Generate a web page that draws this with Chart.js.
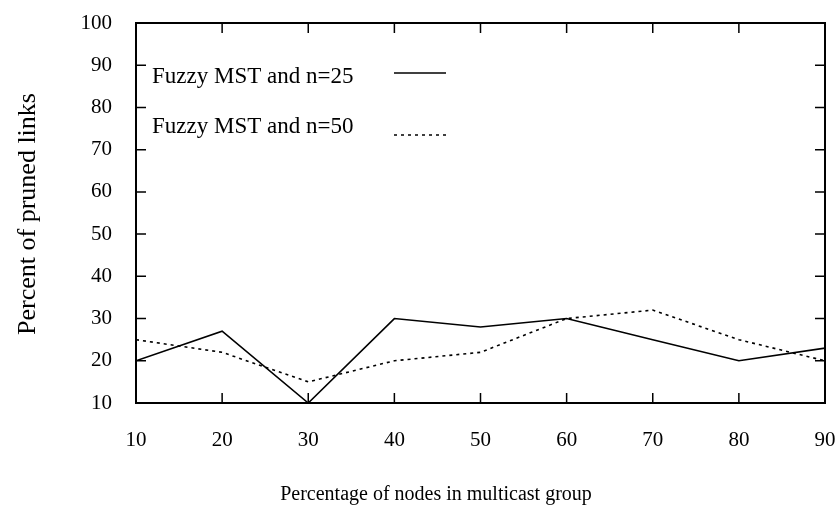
<!DOCTYPE html>
<html>
<head>
<meta charset="utf-8">
<script src="https://cdn.jsdelivr.net/npm/chart.js@4/dist/chart.umd.min.js"></script>
<style>
  html, body { margin: 0; padding: 0; background: #fff; }
  #wrap { width: 840px; height: 509px; }
</style>
</head>
<body>
<div id="wrap"><canvas id="chart"></canvas></div>
<script>
// data
var nodePercent = [10, 20, 30, 40, 50, 60, 70, 80, 90];
var prunedN25 = [20, 27, 10, 30, 28, 30, 25, 20, 23];
var prunedN50 = [25, 22, 15, 20, 22, 30, 32, 25, 20];
var seriesNames = ['Fuzzy MST and n=25', 'Fuzzy MST and n=50'];
var xTitle = 'Percentage of nodes in multicast group';
var yTitle = 'Percent of pruned links';

var SERIF = '"Liberation Serif", "DejaVu Serif", serif';

// frame, inward ticks on all four sides, axis titles and the in-plot key
var framePlugin = {
  id: 'frame',
  afterDraw: function(chart) {
    var ctx = chart.ctx;
    var a = chart.chartArea;
    var xs = chart.scales.x, ys = chart.scales.y;
    ctx.save();
    ctx.strokeStyle = '#000';
    ctx.lineWidth = 2;
    ctx.strokeRect(a.left, a.top, a.right - a.left, a.bottom - a.top);
    ctx.lineWidth = 1.5;
    ctx.beginPath();
    xs.ticks.forEach(function(t, i) {
      var px = xs.getPixelForTick(i);
      ctx.moveTo(px, a.bottom); ctx.lineTo(px, a.bottom - 10);
      ctx.moveTo(px, a.top); ctx.lineTo(px, a.top + 10);
    });
    ys.ticks.forEach(function(t, i) {
      var py = ys.getPixelForTick(i);
      ctx.moveTo(a.left, py); ctx.lineTo(a.left + 10, py);
      ctx.moveTo(a.right, py); ctx.lineTo(a.right - 10, py);
    });
    ctx.stroke();

    ctx.fillStyle = '#000';
    ctx.textBaseline = 'middle';

    // axis titles (the original sits off-centre)
    ctx.textAlign = 'center';
    ctx.font = '20px ' + SERIF;
    ctx.fillText(xTitle, 436, 495);
    ctx.save();
    ctx.translate(28, 214);
    ctx.rotate(-Math.PI / 2);
    ctx.font = '26px ' + SERIF;
    ctx.fillText(yTitle, 0, 0);
    ctx.restore();

    // key
    ctx.textAlign = 'left';
    ctx.font = '23px ' + SERIF;
    chart.data.datasets.forEach(function(ds, i) {
      var ty = a.top + 54 + i * 50;
      ctx.fillText(ds.label, a.left + 16, ty);
      ctx.setLineDash(ds.borderDash || []);
      ctx.lineWidth = 1.6;
      ctx.beginPath();
      var ly = ty - 4 + i * 12;
      ctx.moveTo(a.left + 258, ly); ctx.lineTo(a.left + 310, ly);
      ctx.stroke();
      ctx.setLineDash([]);
    });
    ctx.restore();
  }
};

new Chart(document.getElementById('chart'), {
  type: 'line',
  data: {
    labels: nodePercent,
    datasets: [
      { label: seriesNames[0], data: prunedN25, borderColor: '#000', borderWidth: 1.6,
        pointRadius: 0, tension: 0, fill: false },
      { label: seriesNames[1], data: prunedN50, borderColor: '#000', borderWidth: 1.6,
        borderDash: [3, 4], pointRadius: 0, tension: 0, fill: false }
    ]
  },
  options: {
    responsive: true,
    maintainAspectRatio: false,
    animation: false,
    layout: { padding: { top: 23, right: 15, left: 0, bottom: 0 } },
    plugins: { legend: { display: false }, tooltip: { enabled: false } },
    scales: {
      x: {
        type: 'linear', min: 10, max: 90,
        afterFit: function(s) { s.height = 106; s.paddingLeft = 0; s.paddingRight = 0; },
        grid: { display: false, drawTicks: false },
        border: { display: false },
        ticks: { stepSize: 10, color: '#000', padding: 25, maxRotation: 0,
                 font: { family: SERIF, size: 21 } }
      },
      y: {
        min: 10, max: 100,
        afterFit: function(s) { s.width = 136; s.paddingTop = 0; s.paddingBottom = 0; },
        grid: { display: false, drawTicks: false },
        border: { display: false },
        ticks: { stepSize: 10, color: '#000', padding: 24, font: { family: SERIF, size: 21 } }
      }
    }
  },
  plugins: [framePlugin]
});
</script>
</body>
</html>
